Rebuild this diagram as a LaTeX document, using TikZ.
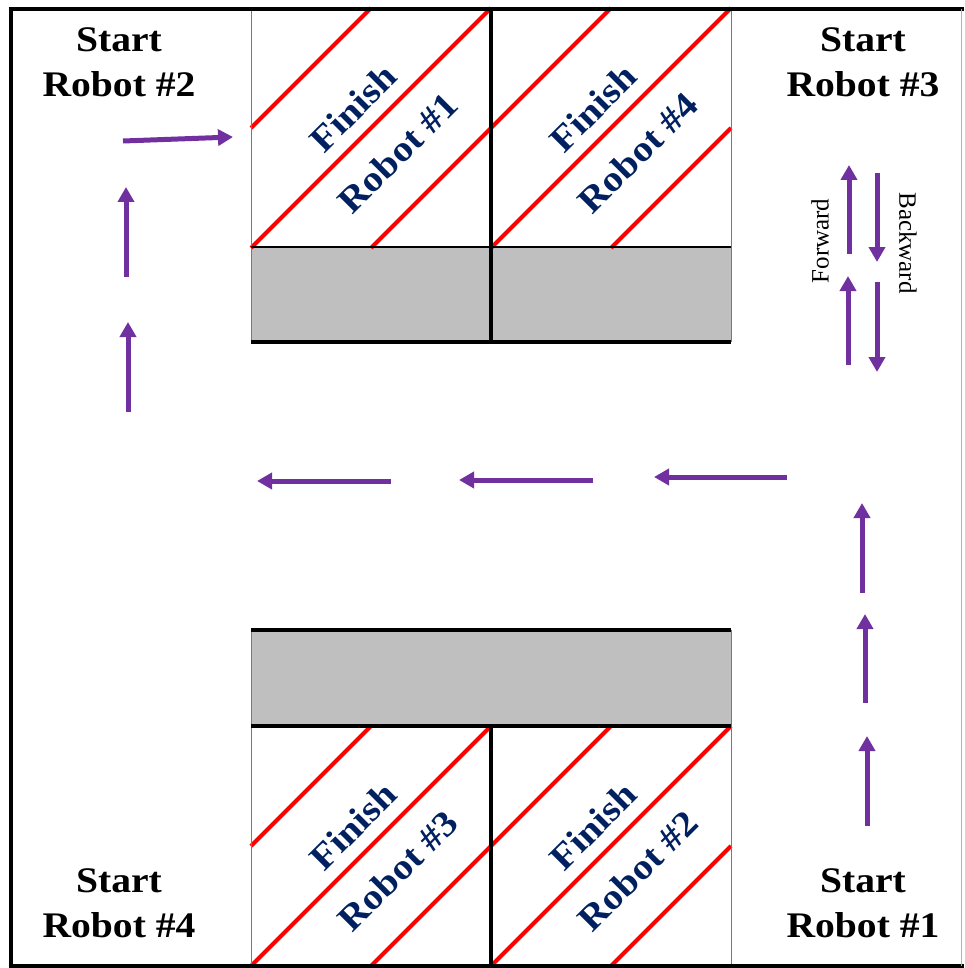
\documentclass[tikz,border=0pt]{standalone}
\usepackage{fontspec}
\setmainfont{Liberation Serif}
\newfontfamily\widebold{Liberation Serif}[FakeStretch=1.1]
\usetikzlibrary{arrows.meta}
\definecolor{navy}{RGB}{0,32,96}
\definecolor{arrowpurple}{RGB}{112,48,160}
\definecolor{wallgray}{RGB}{191,191,191}
\definecolor{edgeblue}{RGB}{79,129,189}
\definecolor{redline}{RGB}{255,0,0}
\tikzset{
  starttext/.style={font=\fontsize{36}{44}\widebold\bfseries, inner sep=0pt, anchor=base},
  celltext/.style={font=\fontsize{36}{44}\widebold\bfseries, text=navy, inner sep=0pt, rotate=45},
  dirtext/.style={font=\fontsize{25}{30}\selectfont, inner sep=0pt},
  move/.style={draw=arrowpurple, line width=5pt, -{Triangle[length=15pt,width=16pt]}},
  stripe/.style={draw=redline, line width=4pt},
  thickwall/.style={draw=black, line width=4pt},
  thinwall/.style={draw=black, line width=2pt},
  blueedge/.style={draw=edgeblue, line width=1pt},
}
\begin{document}
\begin{tikzpicture}[x=1pt,y=-1pt]
\useasboundingbox (0,0) rectangle (964,968);
% gray bands
\fill[wallgray] (251,247) rectangle (731,342);
\fill[wallgray] (251,630) rectangle (731,726);
% red stripes in the four finish cells
\foreach \xo/\yo in {251/8, 491/8, 251/726, 491/726}{
  \draw[stripe] (\xo,\yo+120) -- (\xo+120,\yo);
  \draw[stripe] (\xo,\yo+240) -- (\xo+240,\yo);
  \draw[stripe] (\xo+120,\yo+240) -- (\xo+240,\yo+120);
}
% block edges
\draw[blueedge] (251,8) -- (251,342);
\draw[blueedge] (731,8) -- (731,342);
\draw[blueedge] (251,630) -- (251,966);
\draw[blueedge] (731,630) -- (731,966);
% top block walls
\draw[thinwall] (251,247) -- (731,247);
\draw[thickwall] (251,342) -- (731,342);
\draw[thickwall] (491,8) -- (491,342);
% bottom block walls
\draw[thickwall] (251,630) -- (731,630);
\draw[thickwall] (251,726) -- (731,726);
\draw[thickwall] (491,726) -- (491,966);
% outer border
\draw[thickwall] (10.5,7) -- (10.5,968);
\draw[thickwall] (8.5,9) -- (964,9);
\draw[thickwall] (8.5,966) -- (964,966);
\draw[draw=gray!60, line width=1pt] (961,9) -- (961,966);
% start labels
\node[starttext] (s2a) at (119,52) {Start};
\node[starttext] (s2b) at (119,97) {Robot \#2};
\node[starttext] (s3a) at (863,52) {Start};
\node[starttext] (s3b) at (863,97) {Robot \#3};
\node[starttext] (s4a) at (119,892) {Start};
\node[starttext] (s4b) at (119,937) {Robot \#4};
\node[starttext] (s1a) at (863,892) {Start};
\node[starttext] (s1b) at (863,937) {Robot \#1};
% finish labels
\node[celltext] (f1a) at (353,108) {Finish};
\node[celltext] (f1b) at (398,153) {Robot \#1};
\node[celltext] (f4a) at (593,108) {Finish};
\node[celltext] (f4b) at (638,153) {Robot \#4};
\node[celltext] (f3a) at (353,826) {Finish};
\node[celltext] (f3b) at (398,871) {Robot \#3};
\node[celltext] (f2a) at (593,826) {Finish};
\node[celltext] (f2b) at (638,871) {Robot \#2};
% direction labels
\node[dirtext, rotate=90] (fw) at (820,241) {Forward};
\node[dirtext, rotate=-90] (bw) at (908,243) {Backward};
% arrow end points
\coordinate (a1t) at (123,141); \coordinate (a1h) at (233,137);
\coordinate (a2t) at (126,277); \coordinate (a2h) at (126,187);
\coordinate (a3t) at (128,412); \coordinate (a3h) at (128,322);
\coordinate (a4t) at (391,481); \coordinate (a4h) at (257,481);
\coordinate (a5t) at (593,480); \coordinate (a5h) at (459,480);
\coordinate (a6t) at (787,477); \coordinate (a6h) at (654,477);
\coordinate (a7t) at (862,593); \coordinate (a7h) at (862,503);
\coordinate (a8t) at (865,703); \coordinate (a8h) at (865,614);
\coordinate (a9t) at (867,826); \coordinate (a9h) at (867,736);
\coordinate (b1t) at (849,254); \coordinate (b1h) at (849,165);
\coordinate (b2t) at (877,173); \coordinate (b2h) at (877,262);
\coordinate (b3t) at (848,365); \coordinate (b3h) at (848,276);
\coordinate (b4t) at (877,282); \coordinate (b4h) at (877,372);
% arrows
\foreach \p in {a1,a2,a3,a4,a5,a6,a7,a8,a9,b1,b2,b3,b4}{
  \draw[move] (\p t) -- (\p h);
}
\end{tikzpicture}
\end{document}
